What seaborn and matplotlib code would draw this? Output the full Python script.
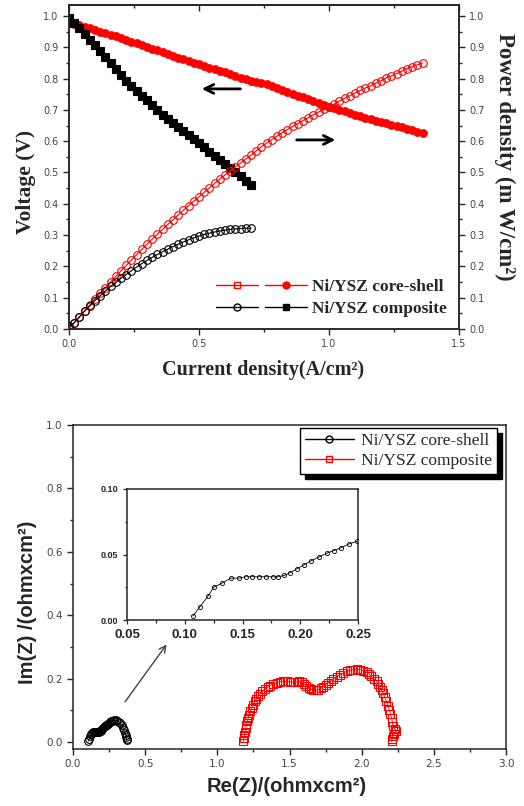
import matplotlib
matplotlib.use('Agg')
import matplotlib.pyplot as plt
import seaborn as sns
from matplotlib.lines import Line2D
from matplotlib.legend_handler import HandlerTuple
from matplotlib.ticker import MultipleLocator

# top panel: I-V-P curves
j_cs = [0.00, 0.02, 0.04, 0.06, 0.08, 0.10, 0.12, 0.14, 0.16, 0.18, 0.20, 0.22, 0.24, 0.26,
        0.28, 0.30, 0.32, 0.34, 0.36, 0.38, 0.40, 0.42, 0.44, 0.46, 0.48, 0.50, 0.52, 0.54,
        0.56, 0.58, 0.60, 0.62, 0.64, 0.66, 0.68, 0.70, 0.72, 0.74, 0.76, 0.78, 0.80, 0.82,
        0.84, 0.86, 0.88, 0.90, 0.92, 0.94, 0.96, 0.98, 1.00, 1.02, 1.04, 1.06, 1.08, 1.10,
        1.12, 1.14, 1.16, 1.18, 1.20, 1.22, 1.24, 1.26, 1.28, 1.30, 1.32, 1.34, 1.36]
v_cs = [0.980, 0.975, 0.970, 0.966, 0.960, 0.955, 0.950, 0.946, 0.940, 0.935, 0.928, 0.922,
        0.918, 0.913, 0.908, 0.902, 0.896, 0.890, 0.884, 0.879, 0.873, 0.867, 0.862, 0.856,
        0.850, 0.845, 0.840, 0.835, 0.830, 0.825, 0.820, 0.814, 0.809, 0.803, 0.798, 0.793,
        0.790, 0.786, 0.782, 0.776, 0.770, 0.765, 0.758, 0.752, 0.745, 0.740, 0.734, 0.728,
        0.722, 0.716, 0.710, 0.705, 0.700, 0.695, 0.690, 0.685, 0.680, 0.675, 0.670, 0.665,
        0.661, 0.657, 0.652, 0.648, 0.644, 0.640, 0.635, 0.630, 0.625]
p_cs = [0.000, 0.020, 0.039, 0.058, 0.077, 0.096, 0.114, 0.132, 0.150, 0.168, 0.186, 0.203,
        0.220, 0.237, 0.254, 0.271, 0.287, 0.303, 0.318, 0.334, 0.349, 0.364, 0.379, 0.394,
        0.408, 0.422, 0.437, 0.451, 0.465, 0.479, 0.492, 0.505, 0.518, 0.530, 0.543, 0.555,
        0.569, 0.582, 0.594, 0.605, 0.616, 0.627, 0.637, 0.647, 0.656, 0.666, 0.675, 0.684,
        0.693, 0.702, 0.710, 0.719, 0.728, 0.737, 0.745, 0.754, 0.762, 0.770, 0.777, 0.785,
        0.793, 0.802, 0.808, 0.816, 0.824, 0.832, 0.838, 0.844, 0.850]

j_comp = [0.00, 0.02, 0.04, 0.06, 0.08, 0.10, 0.12, 0.14, 0.16, 0.18, 0.20, 0.22, 0.24, 0.26,
          0.28, 0.30, 0.32, 0.34, 0.36, 0.38, 0.40, 0.42, 0.44, 0.46, 0.48, 0.50, 0.52, 0.54,
          0.56, 0.58, 0.60, 0.62, 0.64, 0.66, 0.68, 0.70]
v_comp = [0.995, 0.978, 0.960, 0.942, 0.924, 0.906, 0.887, 0.868, 0.849, 0.830, 0.811, 0.793,
          0.776, 0.760, 0.745, 0.730, 0.715, 0.699, 0.685, 0.672, 0.659, 0.646, 0.633, 0.620,
          0.607, 0.594, 0.580, 0.567, 0.553, 0.540, 0.527, 0.514, 0.501, 0.488, 0.474, 0.460]
p_comp = [0.010, 0.020, 0.038, 0.057, 0.074, 0.091, 0.106, 0.122, 0.136, 0.149, 0.162, 0.174,
          0.186, 0.198, 0.209, 0.219, 0.229, 0.238, 0.247, 0.255, 0.263, 0.271, 0.278, 0.285,
          0.291, 0.297, 0.302, 0.306, 0.310, 0.313, 0.316, 0.318, 0.320, 0.321, 0.322, 0.322]

# bottom panel: Nyquist plots
re_cs = [0.107, 0.113, 0.120, 0.125, 0.132, 0.140, 0.147, 0.153, 0.158, 0.164, 0.170, 0.176,
         0.181, 0.186, 0.191, 0.197, 0.203, 0.209, 0.216, 0.223, 0.229, 0.235, 0.242, 0.249,
         0.257, 0.266, 0.275, 0.284, 0.295, 0.306, 0.317, 0.327, 0.337, 0.345, 0.352, 0.358,
         0.364, 0.369, 0.372, 0.373]
im_cs = [0.003, 0.010, 0.018, 0.025, 0.028, 0.032, 0.032, 0.033, 0.033, 0.033, 0.033, 0.033,
         0.033, 0.034, 0.036, 0.039, 0.042, 0.045, 0.048, 0.051, 0.053, 0.055, 0.058, 0.060,
         0.062, 0.065, 0.067, 0.068, 0.068, 0.066, 0.063, 0.060, 0.053, 0.045, 0.038, 0.030,
         0.022, 0.015, 0.009, 0.005]

re_comp = [1.180, 1.184, 1.188, 1.192, 1.197, 1.202, 1.207, 1.213, 1.220, 1.228, 1.237, 1.247,
           1.258, 1.270, 1.283, 1.297, 1.312, 1.330, 1.348, 1.366, 1.388, 1.411, 1.434, 1.457,
           1.480, 1.503, 1.526, 1.549, 1.566, 1.584, 1.600, 1.615, 1.632, 1.648, 1.665, 1.683,
           1.700, 1.717, 1.734, 1.751, 1.768, 1.785, 1.803, 1.826, 1.849, 1.872, 1.895, 1.918,
           1.941, 1.965, 1.988, 2.011, 2.034, 2.051, 2.068, 2.085, 2.103, 2.115, 2.126, 2.138,
           2.149, 2.161, 2.172, 2.181, 2.190, 2.199, 2.207, 2.213, 2.218, 2.230, 2.241, 2.225,
           2.216, 2.210, 2.207]
im_comp = [0.002, 0.012, 0.023, 0.033, 0.044, 0.054, 0.065, 0.075, 0.086, 0.097, 0.107, 0.117,
           0.128, 0.136, 0.144, 0.152, 0.160, 0.166, 0.173, 0.178, 0.184, 0.187, 0.190, 0.191,
           0.191, 0.190, 0.188, 0.190, 0.191, 0.189, 0.184, 0.177, 0.170, 0.166, 0.164, 0.163,
           0.165, 0.169, 0.175, 0.181, 0.187, 0.193, 0.199, 0.206, 0.212, 0.218, 0.223, 0.226,
           0.228, 0.229, 0.228, 0.225, 0.220, 0.214, 0.207, 0.199, 0.191, 0.182, 0.173, 0.164,
           0.154, 0.141, 0.128, 0.115, 0.102, 0.089, 0.076, 0.062, 0.049, 0.040, 0.036, 0.026,
           0.018, 0.010, 0.002]

labels_top = ['Ni/YSZ core-shell', 'Ni/YSZ composite']
labels_bot = ['Ni/YSZ core-shell', 'Ni/YSZ composite']

sns.set_style('ticks')
plt.rcParams['font.family'] = ['DejaVu Sans']
plt.rcParams['axes.linewidth'] = 1.1

TICK_COLOR = '#444444'
serif_bold = {'family': 'Liberation Serif', 'weight': 'bold'}
sans_bold = {'family': 'Liberation Sans', 'weight': 'bold'}

fig = plt.figure(figsize=(5.24, 8.06), dpi=100)

# ---------------- top panel ----------------
ax = fig.add_axes([69 / 524, 1 - 329 / 806, 390 / 524, 324 / 806])
ax2 = ax.twinx()

sns.lineplot(x=j_cs, y=v_cs, ax=ax, color='red', marker='o', ms=5.5, mec='red', mew=0.8,
             lw=1, sort=False, estimator=None)
sns.lineplot(x=j_comp, y=v_comp, ax=ax, color='black', marker='s', ms=5.5, mec='black',
             mew=0.8, lw=1, sort=False, estimator=None)
sns.lineplot(x=j_cs, y=p_cs, ax=ax2, color='red', marker='o', ms=5.5, mec='red', mfc='none',
             mew=0.8, lw=0.8, sort=False, estimator=None)
sns.lineplot(x=j_comp, y=p_comp, ax=ax2, color='black', marker='o', ms=5.5, mec='black',
             mfc='none', mew=0.8, lw=0.8, sort=False, estimator=None)

for a in (ax, ax2):
    a.set_ylim(0, 1.035)
    a.yaxis.set_major_locator(MultipleLocator(0.1))
    a.yaxis.set_minor_locator(MultipleLocator(0.05))
    a.tick_params(axis='y', which='major', direction='out', length=4, width=1, labelsize=7,
                  labelcolor=TICK_COLOR)
    a.tick_params(axis='y', which='minor', direction='out', length=2.5, width=1)
    a.yaxis.set_major_formatter(plt.FormatStrFormatter('%.1f'))
ax.set_xlim(0, 1.5)
ax.xaxis.set_major_locator(MultipleLocator(0.5))
ax.xaxis.set_minor_locator(MultipleLocator(0.25))
ax.tick_params(axis='x', which='major', direction='out', length=4, width=1, labelsize=7,
               labelcolor=TICK_COLOR)
ax.tick_params(axis='x', which='minor', direction='out', length=2.5, width=1)
ax.xaxis.set_major_formatter(plt.FormatStrFormatter('%.1f'))

# mirrored top axis with inward ticks
top = ax.secondary_xaxis('top')
top.xaxis.set_major_locator(MultipleLocator(0.5))
top.xaxis.set_minor_locator(MultipleLocator(0.25))
top.tick_params(which='major', direction='in', length=4, width=1, labeltop=False)
top.tick_params(which='minor', direction='in', length=2.5, width=1)

ax.set_ylabel('Voltage (V)', fontsize=15.5, **serif_bold)
ax.yaxis.set_label_coords(-0.085, 0.455)
ax2.set_ylabel('Power density (m W/cm²)', fontsize=16.5, rotation=270, **serif_bold)
ax2.yaxis.set_label_coords(1.145, 0.53)
ax.set_xlabel('Current density(A/cm²)', fontsize=14.5, **serif_bold)
ax.xaxis.set_label_coords(0.497, -0.095)

arrow_kw = dict(arrowstyle='->', lw=2, color='black', mutation_scale=16)
ax.annotate('', xy=(0.50, 0.767), xytext=(0.67, 0.767), arrowprops=arrow_kw)
ax.annotate('', xy=(1.035, 0.604), xytext=(0.865, 0.604), arrowprops=arrow_kw)

h_cs = (Line2D([], [], color='red', marker='s', mfc='none', ms=5, lw=1),
        Line2D([], [], color='red', marker='o', ms=5, lw=1))
h_comp = (Line2D([], [], color='black', marker='o', mfc='none', ms=5, lw=1),
          Line2D([], [], color='black', marker='s', ms=4.5, lw=1))
ax.legend([h_cs, h_comp], labels_top, handler_map={tuple: HandlerTuple(ndivide=None, pad=0.4)},
          handlelength=5.2, frameon=False, loc='lower right', bbox_to_anchor=(1.0, 0.0),
          prop={'family': 'Liberation Serif', 'weight': 'bold', 'size': 12.5},
          handletextpad=0.3, borderaxespad=0.3, labelspacing=0.3)

# ---------------- bottom panel ----------------
bx = fig.add_axes([73 / 524, 1 - 749 / 806, 433 / 524, 324 / 806])
sns.lineplot(x=re_cs, y=im_cs, ax=bx, color='black', marker='o', ms=5.5, mec='black',
             mfc='none', mew=0.8, lw=0.6, sort=False, estimator=None)
sns.lineplot(x=re_comp, y=im_comp, ax=bx, color='red', marker='s', ms=5.5, mec='red',
             mfc='none', mew=0.8, lw=0.6, sort=False, estimator=None)
bx.set_xlim(0, 3.0)
bx.set_ylim(-0.022, 1.0)
bx.xaxis.set_major_locator(MultipleLocator(0.5))
bx.xaxis.set_minor_locator(MultipleLocator(0.25))
bx.yaxis.set_major_locator(MultipleLocator(0.2))
bx.yaxis.set_minor_locator(MultipleLocator(0.1))
bx.tick_params(which='major', direction='out', length=4, width=1, labelsize=7.5,
               labelcolor=TICK_COLOR)
bx.tick_params(which='minor', direction='out', length=2.5, width=1)
bx.xaxis.set_major_formatter(plt.FormatStrFormatter('%.1f'))
bx.yaxis.set_major_formatter(plt.FormatStrFormatter('%.1f'))
bx.set_ylabel('Im(Z) /(ohmxcm²)', fontsize=14.5, **sans_bold)
bx.yaxis.set_label_coords(-0.082, 0.454)
bx.set_xlabel('Re(Z)/(ohmxcm²)', fontsize=14.5, **sans_bold)
bx.xaxis.set_label_coords(0.494, -0.085)

bx.annotate('', xy=(0.66, 0.315), xytext=(0.35, 0.12),
            arrowprops=dict(arrowstyle='->', lw=1, color='#444444', mutation_scale=12))

hb_cs = Line2D([], [], color='black', marker='o', mfc='none', ms=5, lw=1)
hb_comp = Line2D([], [], color='red', marker='s', mfc='none', ms=5, lw=1)
leg = bx.legend([hb_cs, hb_comp], labels_bot, loc='upper right',
                bbox_to_anchor=(0.979, 0.991), borderaxespad=0, fancybox=False,
                shadow={'ox': 3.5, 'oy': -3.5, 'facecolor': 'black', 'edgecolor': 'black',
                        'alpha': 1},
                edgecolor='black', framealpha=1, handlelength=2.8, handletextpad=0.4,
                labelspacing=0.2, borderpad=0.3,
                prop={'family': 'Liberation Serif', 'size': 12.5})
leg.get_frame().set_linewidth(1)

# inset zoom on core-shell arc
ix = fig.add_axes([127 / 524, 1 - 620 / 806, 231 / 524, 131 / 806])
sns.lineplot(x=re_cs, y=im_cs, ax=ix, color='black', marker='o', ms=3, mec='black',
             mfc='none', mew=0.6, lw=0.6, sort=False, estimator=None)
ix.set_xlim(0.05, 0.25)
ix.set_ylim(0, 0.10)
ix.xaxis.set_major_locator(MultipleLocator(0.05))
ix.xaxis.set_minor_locator(MultipleLocator(0.025))
ix.yaxis.set_major_locator(MultipleLocator(0.05))
ix.yaxis.set_minor_locator(MultipleLocator(0.025))
ix.xaxis.set_major_formatter(plt.FormatStrFormatter('%.2f'))
ix.yaxis.set_major_formatter(plt.FormatStrFormatter('%.2f'))
ix.tick_params(which='major', direction='out', length=3, width=0.9)
ix.tick_params(which='minor', direction='out', length=1.8, width=0.9)
ix.tick_params(axis='x', labelsize=9.5)
ix.tick_params(axis='y', labelsize=6.5)
for t in ix.get_xticklabels() + ix.get_yticklabels():
    t.set_fontweight('bold')
    t.set_fontfamily('Liberation Sans')

fig.savefig('out.png', dpi=100)
